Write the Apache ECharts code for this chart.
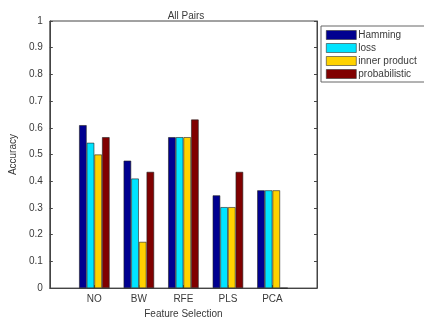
<!DOCTYPE html>
<html><head><meta charset="utf-8">
<script src="https://cdn.jsdelivr.net/npm/echarts@6/dist/echarts.min.js"></script>
<style>html,body{margin:0;padding:0;background:#fff}#c{width:424px;height:324px}</style>
</head><body><div id="c"></div>
<script>
const categories = ['NO', 'BW', 'RFE', 'PLS', 'PCA'];
const seriesNames = ['Hamming', 'loss', 'inner product', 'probabilistic'];
const hamming = [0.61, 0.477, 0.565, 0.347, 0.366];
const loss = [0.544, 0.41, 0.565, 0.303, 0.366];
const innerProduct = [0.5, 0.173, 0.565, 0.303, 0.366];
const probabilistic = [0.565, 0.435, 0.631, 0.435, 0];
const yTicks = [0, 0.1, 0.2, 0.3, 0.4, 0.5, 0.6, 0.7, 0.8, 0.9, 1];
const colors = ['#000090', '#00e4ff', '#ffd200', '#800000'];

const allValues = [hamming, loss, innerProduct, probabilistic];
const axisCats = [''].concat(categories, ['']);
const font = 'Liberation Sans, Arial, sans-serif';
const txt = '#3a3a3a';

const chart = echarts.init(document.getElementById('c'));
chart.setOption({
  animation: false,
  backgroundColor: '#fff',
  title: { text: 'All Pairs', left: 181, textAlign: 'center', top: 6,
    textStyle: { fontFamily: font, fontSize: 10, fontWeight: 'normal', color: txt } },
  legend: {
    orient: 'vertical', left: 321, top: 26, padding: [4, 12, 3, 5],
    itemWidth: 30, itemHeight: 9, itemGap: 3,
    borderColor: '#666', borderWidth: 1, backgroundColor: '#fff',
    textStyle: { fontFamily: font, fontSize: 10, color: txt, padding: [0, 0, 0, -3] },
    itemStyle: { borderWidth: 0.6, borderColor: '#333' },
    icon: 'rect',
    data: seriesNames
  },
  grid: { left: 43, right: 107, top: 21, bottom: 32, show: true, borderColor: '#444', borderWidth: 1 },
  xAxis: {
    type: 'category', data: axisCats, boundaryGap: false,
    name: 'Feature Selection', nameLocation: 'middle', nameGap: 17,
    nameTextStyle: { fontFamily: font, fontSize: 10, color: txt },
    axisLine: { lineStyle: { color: '#444' } },
    axisTick: { inside: true, length: 3, lineStyle: { color: '#444' } },
    axisLabel: { fontFamily: font, fontSize: 10, color: txt, margin: 6 },
    splitLine: { show: false }
  },
  yAxis: [{
    type: 'value', min: 0, max: 1, interval: 0.1,
    name: 'Accuracy', nameLocation: 'middle', nameGap: 25,
    nameTextStyle: { fontFamily: font, fontSize: 10, color: txt },
    axisLine: { show: true, lineStyle: { color: '#444' } },
    axisTick: { show: true, inside: true, length: 3, lineStyle: { color: '#444' } },
    axisLabel: { fontFamily: font, fontSize: 10, color: txt, margin: 7,
      formatter: v => { const t = yTicks.find(x => Math.abs(x - v) < 1e-6); return t === undefined ? '' : String(t); } },
    splitLine: { show: false }
  }, {
    type: 'value', min: 0, max: 1, interval: 0.1, position: 'right',
    axisLine: { show: true, lineStyle: { color: '#444' } },
    axisTick: { show: true, inside: true, length: 3, lineStyle: { color: '#444' } },
    axisLabel: { show: false }, splitLine: { show: false }
  }],
  series: seriesNames.map((n, i) => ({
    name: n, type: 'bar', barWidth: 7.5, barGap: '2%',
    data: [null].concat(allValues[i], [null]),
    itemStyle: { color: colors[i], borderColor: '#222', borderWidth: 0.6 }
  }))
});
</script></body></html>
